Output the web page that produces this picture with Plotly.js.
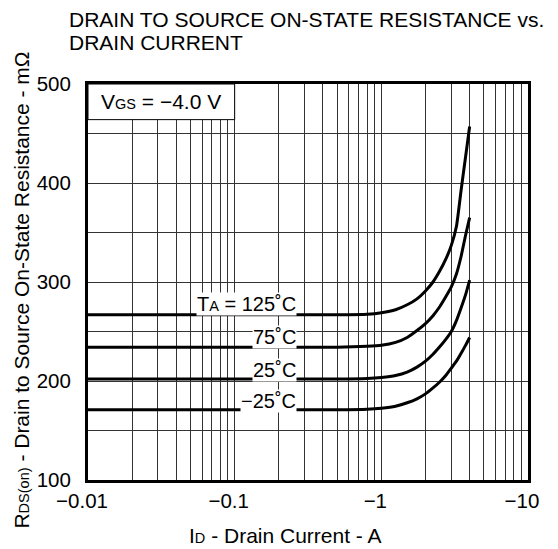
<!DOCTYPE html>
<html><head><meta charset="utf-8">
<script src="https://cdn.plot.ly/plotly-3.0.1.min.js"></script>
<style>html,body{margin:0;padding:0;background:#fff}</style>
</head><body><div id="chart" style="width:558px;height:549px"></div>
<script>
// Drain current magnitude (A); axis labels show the negative sign
const id125 = [0.01, 0.5, 0.8, 1.0, 1.25, 1.5, 1.75, 2.0, 2.25, 2.5, 2.75, 3.0, 3.25, 3.5, 3.75, 4.0];
const r125  = [267, 267, 267.5, 269, 272, 277, 283, 291, 300, 311, 323, 337, 356, 393, 426, 457];
const id75  = [0.01, 0.5, 0.8, 1.0, 1.25, 1.5, 1.75, 2.0, 2.25, 2.5, 2.75, 3.0, 3.25, 3.5, 3.75, 4.0];
const r75   = [234, 234, 235, 236, 239, 244, 251, 258, 266, 275, 285, 295, 308, 326, 347, 365];
const id25  = [0.01, 0.5, 0.8, 1.0, 1.25, 1.5, 1.75, 2.0, 2.25, 2.5, 2.75, 3.0, 3.25, 3.5, 3.75, 4.0];
const r25   = [202, 202, 202.5, 203.5, 205.5, 209, 214, 220, 227, 234.5, 242, 250, 261, 274, 287, 302];
const idm25 = [0.01, 0.5, 0.8, 1.0, 1.25, 1.5, 1.75, 2.0, 2.25, 2.5, 2.75, 3.0, 3.25, 3.5, 3.75, 4.0];
const rm25  = [171, 171, 171.5, 172.5, 174.5, 178, 182, 187, 193, 199, 205.5, 213, 220, 228, 236, 244];

const xTickVals = [0.01,0.02,0.03,0.04,0.05,0.06,0.07,0.08,0.09,
                   0.1,0.2,0.3,0.4,0.5,0.6,0.7,0.8,0.9,
                   1,2,3,4,5,6,7,8,9,10];
const xTickText = ['\u22120.01','','','','','','','','',
                   '\u22120.1','','','','','','','','',
                   '\u22121','','','','','','','','',
                   '\u221210'];
const yTickVals = [100,150,200,250,300,350,400,450,500];
const yTickText = ['100','','200','','300','','400','','500'];

const FONT = '"Liberation Sans", Arial, sans-serif';
const lineStyle = {color:'#000', width:3, shape:'spline', smoothing:0.5};

const traces = [
  {x:id125, y:r125, mode:'lines', line:lineStyle, hoverinfo:'skip'},
  {x:id75,  y:r75,  mode:'lines', line:lineStyle, hoverinfo:'skip'},
  {x:id25,  y:r25,  mode:'lines', line:lineStyle, hoverinfo:'skip'},
  {x:idm25, y:rm25, mode:'lines', line:lineStyle, hoverinfo:'skip'}
];

const small = s => '<span style="font-size:14.5px">' + s + '</span>';

const layout = {
  width:558, height:549,
  margin:{l:88, r:30, t:84, b:69, pad:0},
  paper_bgcolor:'#fff', plot_bgcolor:'#fff',
  showlegend:false,
  font:{family:FONT, color:'#000', size:20},
  xaxis:{
    type:'log', range:[-2, 1],
    tickmode:'array', tickvals:xTickVals, ticktext:xTickText,
    showgrid:true, gridcolor:'#333', gridwidth:1,
    showline:true, linecolor:'#000', linewidth:3, mirror:true,
    ticks:'', zeroline:false, ticklabelshift:-6,
    tickfont:{family:FONT, size:20.5, color:'#000'}
  },
  yaxis:{
    range:[100, 500],
    tickmode:'array', tickvals:yTickVals, ticktext:yTickText,
    showgrid:true, gridcolor:'#333', gridwidth:1,
    showline:true, linecolor:'#000', linewidth:3, mirror:true,
    ticks:'', zeroline:false, ticklabelstandoff:10,
    tickfont:{family:FONT, size:20.5, color:'#000'}
  },
  shapes:[
    {type:'rect', xref:'x', yref:'y', x0:0.01, x1:0.1, y0:464, y1:500,
     fillcolor:'#fff', line:{color:'#000', width:1}, layer:'above'}
  ],
  annotations:[
    {xref:'paper', yref:'paper', x:-0.0461, y:1.1641, xanchor:'left', yanchor:'middle',
     text:'DRAIN TO SOURCE ON-STATE RESISTANCE vs.', showarrow:false, borderpad:0,
     font:{family:FONT, size:21, color:'#000'}},
    {xref:'paper', yref:'paper', x:-0.0461, y:1.1048, xanchor:'left', yanchor:'middle',
     text:'DRAIN CURRENT', showarrow:false, borderpad:0,
     font:{family:FONT, size:21, color:'#000'}},
    {xref:'paper', yref:'paper', x:0.449, y:-0.1414, xanchor:'center', yanchor:'middle',
     text:'I' + small('D') + ' - Drain Current - A', showarrow:false, borderpad:0,
     font:{family:FONT, size:21, color:'#000'}},
    {xref:'paper', yref:'paper', x:-0.151, y:0.4798, xanchor:'center', yanchor:'middle',
     textangle:-90,
     text:'R' + small('DS(on)') + ' - Drain to Source On-State Resistance - m\u03A9', showarrow:false, borderpad:0,
     font:{family:FONT, size:21, color:'#000'}},
    {xref:'x', yref:'y', x:Math.log10(0.0316), y:482, xanchor:'center', yanchor:'middle',
     text:'V' + small('GS') + ' = \u22124.0 V', showarrow:false, borderpad:0,
     font:{family:FONT, size:21, color:'#000'}},
    {xref:'x', yref:'y', x:Math.log10(0.266), y:277.4, xanchor:'right', yanchor:'middle',
     text:'T' + small('A') + ' = 125\u02DAC', showarrow:false, borderpad:0, bgcolor:'#fff',
     font:{family:FONT, size:20, color:'#000'}},
    {xref:'x', yref:'y', x:Math.log10(0.266), y:244.4, xanchor:'right', yanchor:'middle',
     text:'75\u02DAC', showarrow:false, borderpad:0, bgcolor:'#fff',
     font:{family:FONT, size:20, color:'#000'}},
    {xref:'x', yref:'y', x:Math.log10(0.266), y:211.4, xanchor:'right', yanchor:'middle',
     text:'25\u02DAC', showarrow:false, borderpad:0, bgcolor:'#fff',
     font:{family:FONT, size:20, color:'#000'}},
    {xref:'x', yref:'y', x:Math.log10(0.266), y:179.8, xanchor:'right', yanchor:'middle',
     text:'\u221225\u02DAC', showarrow:false, borderpad:0, bgcolor:'#fff',
     font:{family:FONT, size:20, color:'#000'}}
  ]
};

Plotly.newPlot('chart', traces, layout, {displayModeBar:false, staticPlot:true});
</script>
</body></html>
